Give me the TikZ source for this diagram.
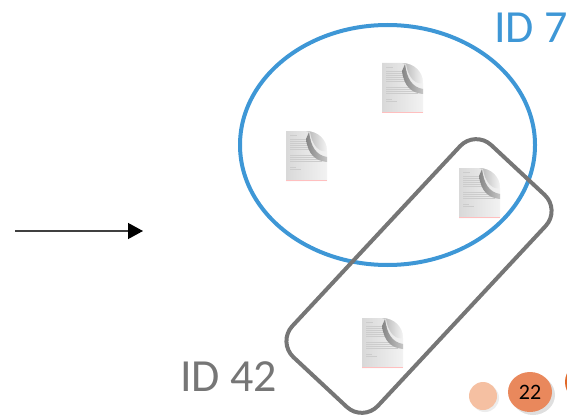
\documentclass[tikz,border=0pt]{standalone}
\usepackage{fontspec}
\setmainfont{Carlito}
\usetikzlibrary{arrows.meta,positioning,shapes.geometric,shadows}

\definecolor{setblue}{RGB}{62,151,214}
\definecolor{setgrey}{RGB}{118,118,118}
\definecolor{peach}{RGB}{245,192,162}
\definecolor{badge}{RGB}{233,136,92}
\definecolor{badgedark}{RGB}{224,104,40}

\begin{document}
\begin{tikzpicture}[
    x=1pt, y=-1pt,
    every node/.style={inner sep=0pt},
    label/.style={font=\fontsize{46}{50}\selectfont, anchor=base west},
    set/.style={draw, line width=4pt},
    dot/.style={circle, minimum size=28pt},
    arrow/.style={-{Triangle[length=15pt, width=16pt, black]}, line width=1.3pt, draw=black!75},
    docpic/.pic={
        % page
        \shade[left color=gray!30, right color=gray!10]
            (0,0) -- (20,0) .. controls (32,0) and (41,9) .. (41,20) -- (41,50) -- (0,50) -- cycle;
        % text lines
        \draw[gray!40, line width=0.5pt] (4,4) -- (11,4);
        \foreach \ly in {8,10,12,14,16,18}
            \draw[gray!40, line width=0.5pt] (4,\ly) -- (25,\ly);
        \foreach \ly in {24,26,28,30}
            \draw[gray!40, line width=0.5pt] (4,\ly) -- (36,\ly);
        \draw[gray!40, line width=0.5pt] (4,36) -- (10,36);
        \draw[gray!40, line width=0.5pt] (4,38) -- (15,38);
        % curl shadow
        \shade[left color=gray!95, right color=gray!45]
            (23,1) .. controls (25,16) and (30,24) .. (41,26)
            -- (41,31) .. controls (30,30) and (22,24) .. (20,8) -- cycle;
        % curl
        \shade[left color=gray!60, right color=gray!8]
            (20,0) .. controls (32,0) and (41,9) .. (41,20)
            .. controls (33,22) and (26,14) .. (24,1) -- cycle;
        % bottom edge
        \draw[red!25, line width=1pt] (0,49.5) -- (41,49.5);
    }
]
\useasboundingbox (0,0) rectangle (567,417);

% the two sets
\node[set, draw=setblue, ellipse, minimum width=295pt, minimum height=240pt] (id7set) at (387.5,145) {};
\node[set, draw=setgrey, rounded corners=22pt, minimum width=290pt, minimum height=117pt, rotate=47] (id42set) at (419,276) {};

% documents
\pic (d1) at (382,63) {docpic};
\pic (d2) at (286,131) {docpic};
\pic (d3) at (459,168) {docpic};
\pic (d4) at (362,318) {docpic};

% labels
\node[label, text=setblue] (id7) at (494,43) {ID 7};
\node[label, text=setgrey] (id42) at (180,391) {ID 42};

% arrow
\coordinate (src) at (15,231);
\coordinate (dst) at (143,231);
\draw[arrow] (src) -- (dst);

% page badges
\node[dot, fill=peach, drop shadow={shadow xshift=2pt, shadow yshift=-2pt, opacity=0.15}] (prev) at (483,396) {};
\node[ellipse, fill=badge, minimum width=44pt, minimum height=40pt,
      drop shadow={shadow xshift=3pt, shadow yshift=-3pt, opacity=0.25},
      font=\fontsize{22}{26}\selectfont] (page) at (530,392) {22};
\node[circle, fill=badgedark, minimum size=40pt] (next) at (585,382) {};

\end{tikzpicture}
\end{document}
